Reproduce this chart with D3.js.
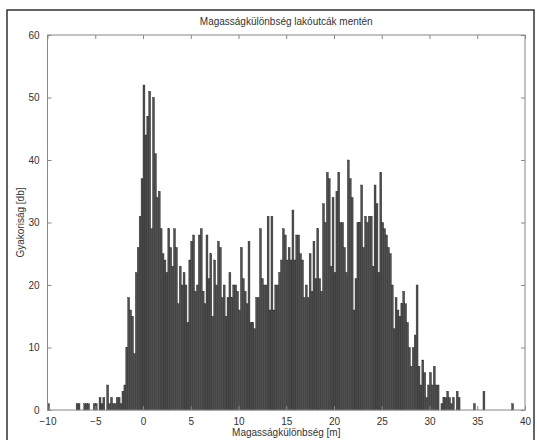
<!DOCTYPE html>
<html>
<head>
<meta charset="utf-8">
<script src="https://cdn.jsdelivr.net/npm/d3@7"></script>
<style>
	body { margin: 0; background: #fff; }
	text { font-family: "Liberation Sans", Arial, sans-serif; fill: #333; }
</style>
</head>
<body>
<div id="graph"></div>
<script>
const svgWidth = 537;
const svgHeight = 440;
const margin = {top: 35, right: 12, bottom: 30, left: 47.5};

const titleText = 'Magasságkülönbség lakóutcák mentén';
const xLabel = 'Magasságkülönbség [m]';
const yLabel = 'Gyakoriság [db]';

const xTicks = [-10, -5, 0, 5, 10, 15, 20, 25, 30, 35, 40];
const yTicks = [0, 10, 20, 30, 40, 50, 60];

// histogram bins, 0.2 m wide, starting at -10 m
const binStart = -10;
const binWidth = 0.2;

const counts = [
	1, 0, 0, 0, 0, 0, 0, 0, 0, 0,
	0, 0, 0, 0, 0, 1, 1, 0, 0, 1,
	1, 1, 0, 0, 1, 1, 0, 2, 1, 2,
	0, 4, 1, 2, 1, 1, 2, 2, 1, 3,
	4, 10, 18, 16, 15, 9, 22, 26, 31, 37,
	52, 44, 47, 51, 29, 50, 41, 34, 35, 29,
	25, 24, 22, 29, 26, 23, 29, 26, 17, 23,
	20, 22, 20, 14, 24,
	27, 28, 19, 20, 28, 29, 19, 17, 28, 21,
	25, 15, 24, 20, 27, 26, 18, 20, 15, 18,
	22, 18, 20, 20, 19, 16, 26, 21, 19, 17,
	27, 14, 14, 13, 18, 18, 29, 21, 20, 20,
	31, 16, 31, 16, 20, 20, 22, 24,
	29, 28, 24, 26, 24, 32, 24, 28, 28, 25,
	24, 18, 20, 18, 25, 19, 27, 21, 29, 21,
	19, 33, 30, 38, 37, 23, 34, 22, 35, 38,
	30, 30, 26, 22, 40, 37, 34, 16, 21, 30,
	30, 36, 26, 31, 30, 31,
	31, 23, 36, 33, 22, 38, 30, 29, 28, 26,
	25, 20, 13, 18, 16, 15, 17, 19, 17, 14,
	10, 7, 10, 12, 20, 7, 4, 8, 6, 2,
	4, 6, 4, 7, 4, 4, 0, 1, 2, 2,
	3, 2, 1, 2, 0, 3, 2,
	0, 0, 0, 0, 0, 0, 0, 1, 0, 0,
	0, 0, 3, 0, 0, 0, 0, 0, 0, 0,
	0, 0, 0, 0, 0, 0, 0, 1, 0, 0,
	0, 0, 0, 0
];

const bins = counts.map((c, i) => ({x0: binStart + i * binWidth, count: c}));

const svg = d3.select('#graph').append('svg')
	.attr('width', svgWidth)
	.attr('height', svgHeight);

// outer figure frame
svg.append('rect')
	.attr('x', 7)
	.attr('y', 10)
	.attr('width', 527)
	.attr('height', 460)
	.attr('fill', '#fff')
	.attr('stroke', '#333')
	.attr('stroke-width', 1.5);

const xScale = d3.scaleLinear()
	.domain([-10, 40])
	.range([margin.left, svgWidth - margin.right]);

const yScale = d3.scaleLinear()
	.domain([0, 60])
	.range([svgHeight - margin.bottom, margin.top]);

svg.append('g')
	.selectAll('rect')
	.data(bins.filter(d => d.count > 0))
	.enter()
	.append('rect')
	.attr('x', d => xScale(d.x0))
	.attr('y', d => yScale(d.count))
	.attr('width', d => xScale(d.x0 + binWidth) - xScale(d.x0))
	.attr('height', d => yScale(0) - yScale(d.count))
	.attr('fill', '#505050')
	.attr('stroke', '#222')
	.attr('stroke-width', 0.4);

// MATLAB style box with inward ticks
const x0 = xScale.range()[0], x1 = xScale.range()[1];
const y0 = yScale.range()[0], y1 = yScale.range()[1];

svg.append('rect')
	.attr('x', x0)
	.attr('y', y1)
	.attr('width', x1 - x0)
	.attr('height', y0 - y1)
	.attr('fill', 'none')
	.attr('stroke', '#888')
	.attr('stroke-width', 1);

const xAxis = d3.axisBottom(xScale).tickValues(xTicks).tickSize(-4).tickPadding(8);
svg.append('g')
	.attr('transform', `translate(0, ${y0})`)
	.call(xAxis)
	.call(g => g.select('.domain').remove());

svg.append('g')
	.attr('transform', `translate(0, ${y1})`)
	.call(d3.axisTop(xScale).tickValues(xTicks).tickSize(-4).tickFormat(''))
	.call(g => g.select('.domain').remove());

const yAxis = d3.axisLeft(yScale).tickValues(yTicks).tickSize(-4).tickPadding(8);
svg.append('g')
	.attr('transform', `translate(${x0}, 0)`)
	.call(yAxis)
	.call(g => g.select('.domain').remove());

svg.append('g')
	.attr('transform', `translate(${x1}, 0)`)
	.call(d3.axisRight(yScale).tickValues(yTicks).tickSize(-4).tickFormat(''))
	.call(g => g.select('.domain').remove());

svg.selectAll('.tick line').attr('stroke', '#888');
svg.selectAll('.tick text')
	.style('font-size', '10px')
	.attr('fill', '#333');

svg.append('text')
	.attr('x', (x0 + x1) / 2)
	.attr('y', 25)
	.attr('text-anchor', 'middle')
	.style('font-size', '10px')
	.text(titleText);

svg.append('text')
	.attr('x', (x0 + x1) / 2)
	.attr('y', 436)
	.attr('text-anchor', 'middle')
	.style('font-size', '10px')
	.text(xLabel);

svg.append('text')
	.attr('transform', `translate(24, ${(y0 + y1) / 2}) rotate(-90)`)
	.attr('text-anchor', 'middle')
	.style('font-size', '10px')
	.text(yLabel);
</script>
</body>
</html>
